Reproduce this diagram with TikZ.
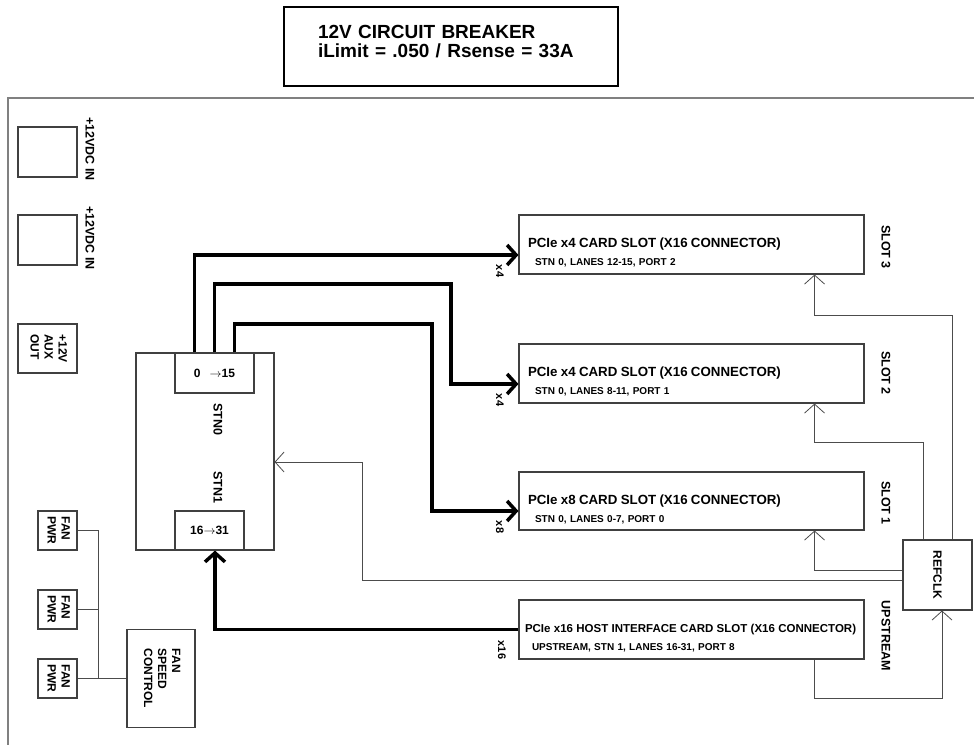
\documentclass[tikz,border=0pt]{standalone}
\usepackage{fontspec}
\setmainfont{Liberation Sans}
\usepackage{graphicx}
\usetikzlibrary{calc}
\usetikzlibrary{arrows.meta}

\newcommand{\vlines}[1]{\rotatebox{-90}{\begin{tabular}{@{}l@{}}#1\end{tabular}}}
\newcommand{\slottext}[3][13.3]{\rule{0pt}{26pt}{\fontsize{#1}{14}\selectfont #2}\\\hspace*{7pt}{\fontsize{10}{12}\selectfont #3}}

\begin{document}
\begin{tikzpicture}[x=1pt,y=-1pt]
    \tikzstyle{blk}=[draw=black!75,line width=1.1pt,inner sep=0pt,font=\bfseries\fontsize{12}{14}\selectfont]
    \tikzstyle{slotbox}=[blk,minimum height=59pt,text width=327pt,inner xsep=9pt,align=left,font=\bfseries\fontsize{10}{18}\selectfont]
    \tikzstyle{tag}=[rotate=-90,inner sep=0pt,font=\bfseries\fontsize{12.5}{14}\selectfont]
    \tikzstyle{width}=[rotate=-90,inner sep=0pt,font=\bfseries\fontsize{11}{12}\selectfont]
    \tikzstyle{bus}=[line width=3.5pt,black,-{Straight Barb[length=9pt,width=20pt]}]
    \tikzstyle{wire}=[line width=0.8pt,black!70]
    \tikzstyle{clk}=[wire,-{Straight Barb[length=9pt,width=20pt]}]
    \useasboundingbox (0,0) rectangle (974,744);
    % board outline
    \draw[draw=black!50,line width=2pt] (8,760) |- (990,98);
    \node[blk,draw=black,line width=1.4pt,minimum width=334pt,minimum height=79pt,text width=266pt,inner xsep=34pt,align=left,font=\bfseries\fontsize{19}{19}\selectfont] (breaker) at (451,46.5) {12V CIRCUIT BREAKER\\iLimit = .050 / Rsense = 33A\rule[-10pt]{0pt}{10pt}};
    % power
    \node[blk,minimum width=59pt,minimum height=50pt] (pwrin1) at (47.5,152) {};
    \node[tag] (pwrin1lbl) at (90,149) {+12VDC IN};
    \node[blk,minimum width=59pt,minimum height=50pt] (pwrin2) at (47.5,240) {};
    \node[tag] (pwrin2lbl) at (90,238) {+12VDC IN};
    \node[blk,minimum width=59pt,minimum height=49pt] (auxout) at (47.5,348.5) {\vlines{+12V\\AUX\\OUT}};
    % fans
    \node[blk,minimum width=39pt,minimum height=39pt] (fan1) at (57.5,530.5) {\vlines{FAN\\PWR}};
    \node[blk,minimum width=39pt,minimum height=39pt] (fan2) at (57.5,609.5) {\vlines{FAN\\PWR}};
    \node[blk,minimum width=39pt,minimum height=39pt] (fan3) at (57.5,678.5) {\vlines{FAN\\PWR}};
    \node[blk,minimum width=68pt,minimum height=98pt] (fanctl) at (161,678.5) {\vlines{FAN\\SPEED\\CONTROL}};
    \draw[wire] (fan1.east) -- ++(21,0) |- (fanctl.west);
    \draw[wire] (fan2.east) -- ++(21,0);
    \draw[wire] (fan3.east) -- (fanctl.west);
    % switch
    \node[blk,minimum width=138pt,minimum height=197pt] (stn) at (205,451.5) {};
    \node[blk,minimum width=79pt,minimum height=40pt] (lanelo) at (214.5,373) {0\hspace{9pt}$\rightarrow$15};
    \node[blk,minimum width=69pt,minimum height=39pt] (lanehi) at (209.5,530.5) {16$\rightarrow$31};
    \node[tag] (stn0) at (218,419) {STN0};
    \node[tag] (stn1) at (218,487) {STN1};
    % slots
    \node[slotbox] (slot3) at (691.5,244.5) {\slottext{PCIe x4 CARD SLOT (X16 CONNECTOR)}{STN 0, LANES 12-15, PORT 2}};
    \node[slotbox] (slot2) at (691.5,373.5) {\slottext{PCIe x4 CARD SLOT (X16 CONNECTOR)}{STN 0, LANES 8-11, PORT 1}};
    \node[slotbox,minimum height=58pt] (slot1) at (691.5,501) {\slottext{PCIe x8 CARD SLOT (X16 CONNECTOR)}{STN 0, LANES 0-7, PORT 0}};
    \node[slotbox,text width=333pt,inner xsep=6pt] (upstream) at (691.5,629.5) {\slottext[11.5]{PCIe x16 HOST INTERFACE CARD SLOT (X16 CONNECTOR)}{UPSTREAM, STN 1, LANES 16-31, PORT 8}};
    \node[tag] (slot3lbl) at (886,247) {SLOT 3};
    \node[tag] (slot2lbl) at (886,373) {SLOT 2};
    \node[tag] (slot1lbl) at (886,503) {SLOT 1};
    \node[tag] (upstreamlbl) at (886,636) {UPSTREAM};
    \node[blk,minimum width=69pt,minimum height=70pt] (refclk) at (937.5,575) {\rotatebox{-90}{REFCLK}};
    % lanes
    \draw[bus] ($(lanelo.north west)+(20,0)$) |- ($(slot3.west)+(0,10.5)$);
    \draw[bus] ($(lanelo.north west)+(40,0)$) |- (451,284) |- ($(slot2.west)+(0,10.5)$);
    \draw[bus] ($(lanelo.north west)+(60,0)$) |- (432,324) |- ($(slot1.west)+(0,10)$);
    \draw[bus] (upstream.west) -| ($(lanehi.south)+(5.5,0)$);
    \node[width] (w3) at (500,271) {x4};
    \node[width] (w2) at (500,400) {x4};
    \node[width] (w1) at (500,527) {x8};
    \node[width] (wup) at (502,650) {x16};
    % clock
    \draw[clk] ($(refclk.north)+(14.5,0)$) |- ($(slot3.south east)+(-50,41)$) -- ($(slot3.south east)+(-50,0)$);
    \draw[clk] ($(refclk.north)+(-14.5,0)$) |- ($(slot2.south east)+(-50,39)$) -- ($(slot2.south east)+(-50,0)$);
    \draw[clk] ($(refclk.west)+(0,-5)$) -| ($(slot1.south east)+(-50,0)$);
    \draw[clk] ($(refclk.west)+(0,5)$) -| (362,462) -- ($(stn.east)+(0,10.5)$);
    \draw[clk] ($(upstream.south east)+(-50,0)$) -- ++(0,39) -| ($(refclk.south)+(4.5,0)$);
\end{tikzpicture}
\end{document}
